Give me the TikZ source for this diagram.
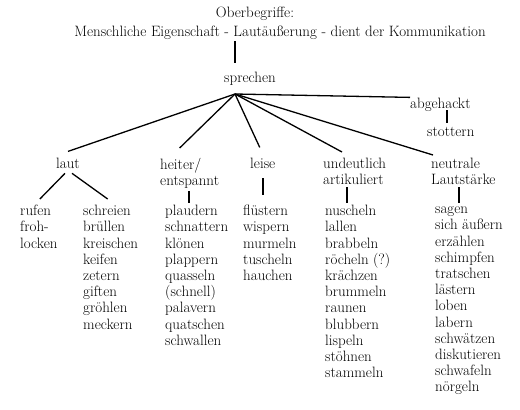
\documentclass[tikz,border=0pt]{standalone}
\usetikzlibrary{calc}
\begin{document}
\begin{tikzpicture}[x=1pt,y=-1pt,
  every node/.style={font=\fontsize{15}{16.2}\selectfont, inner sep=0pt},
  col/.style={anchor=north west, align=left},
  conn/.style={line width=1.3pt}]
\useasboundingbox (0,0) rectangle (520,410);
% top
\node[anchor=base] (ober) at (255,17) {Oberbegriffe:};
\node[anchor=base] (title) at (280,36) {Menschliche Eigenschaft - Lautäußerung - dient der Kommunikation};
\node[anchor=base] (spr) at (250,82) {sprechen};
\coordinate (hub) at (235,94);
\node[anchor=base west] (abg) at (410,108) {abgehackt};
\node[anchor=base west] (stot) at (427,136) {stottern};
% categories
\node[anchor=base] (laut) at (68,168) {laut};
\node[col] (heiter) at (160,158) {heiter/\\entspannt};
\node[anchor=base west] (leise) at (250,168) {leise};
\node[col] (und) at (323,158) {undeutlich\\artikuliert};
\node[col] (neu) at (431,158) {neutrale\\Lautstärke};
% columns
\node[col] (rufen) at (20,205) {rufen\\froh-\\locken};
\node[col] (schreien) at (83,205) {schreien\\brüllen\\kreischen\\keifen\\zetern\\giften\\gröhlen\\meckern};
\node[col] (hcol) at (165,205) {plaudern\\schnattern\\klönen\\plappern\\quasseln\\(schnell)\\palavern\\quatschen\\schwallen};
\node[col] (lcol) at (243,205) {flüstern\\wispern\\murmeln\\tuscheln\\hauchen};
\node[col] (ucol) at (325,205) {nuscheln\\lallen\\brabbeln\\röcheln (?)\\krächzen\\brummeln\\raunen\\blubbern\\lispeln\\stöhnen\\stammeln};
\node[col] (ncol) at (435,203) {\vphantom{l}sagen\\sich äußern\\erzählen\\schimpfen\\tratschen\\lästern\\loben\\labern\\schwätzen\\diskutieren\\schwafeln\\nörgeln};
% x positions of vertical connectors
\coordinate (xa) at (447,0);
\coordinate (xh) at (189,0);
\coordinate (xl) at (263,0);
\coordinate (xu) at (347,0);
\coordinate (xn) at (459,0);
% connectors
\draw[conn] ($(title.south -| hub)+(0,2)$) -- ($(spr.north -| hub)+(0,-8)$);
\draw[conn] (hub) -- (abg.north west);
\draw[conn] ($(abg.south -| xa)+(0,-1)$) -- ($(stot.north -| xa)+(0,-4)$);
\draw[conn] (hub) -- ($(laut.north)+(0,-6)$);
\draw[conn] (hub) -- ($(heiter.north)+(-10,-10)$);
\draw[conn] (hub) -- ($(leise.north)+(-3,-10)$);
\draw[conn] (hub) -- ($(und.north west)+(19,-6)$);
\draw[conn] (hub) -- ($(neu.north west)+(2,-3)$);
\draw[conn] ($(laut.south)+(-3,5)$) -- ($(rufen.north)+(1,-6)$);
\draw[conn] ($(laut.south)+(4,5)$) -- ($(schreien.north)+(-3,-6)$);
\draw[conn] ($(heiter.south -| xh)+(0,2)$) -- ($(hcol.north -| xh)+(0,-2)$);
\draw[conn] ($(leise.south -| xl)+(0,10)$) -- ($(lcol.north -| xl)+(0,-10)$);
\draw[conn] ($(und.south -| xu)+(0,2)$) -- ($(ucol.north -| xu)+(0,-2)$);
\draw[conn] ($(neu.south -| xn)+(0,2)$) -- ($(ncol.north -| xn)+(0,0)$);
\end{tikzpicture}
\end{document}
